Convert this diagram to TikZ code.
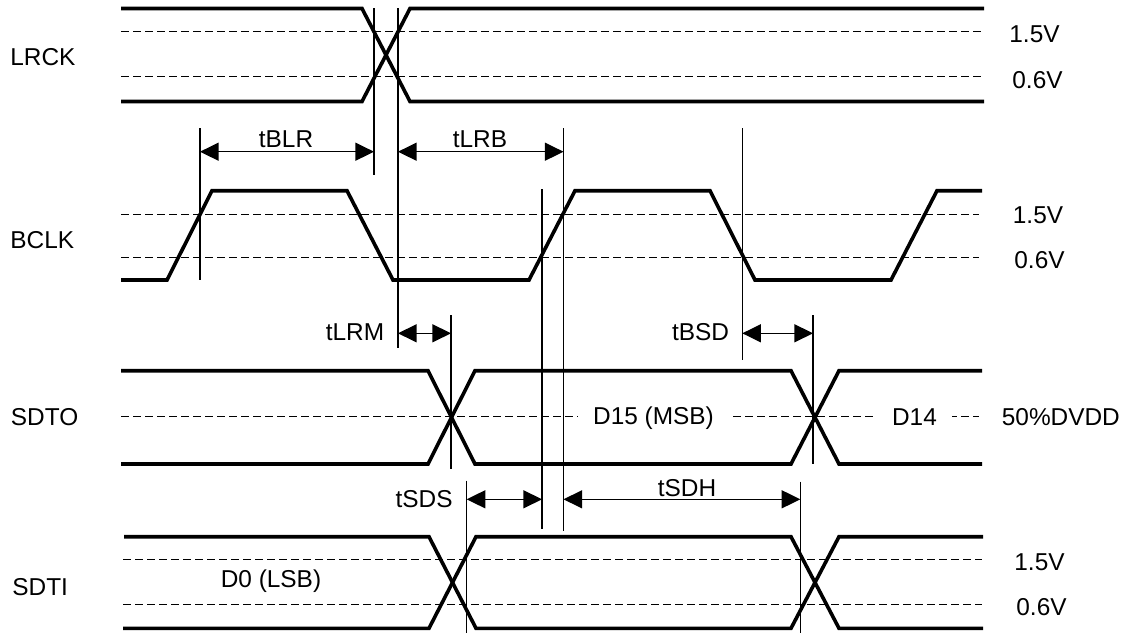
\documentclass[tikz,border=0pt]{standalone}
\usepackage{fontspec}
\setmainfont{Liberation Sans}
\usetikzlibrary{arrows.meta}
\begin{document}
\begin{tikzpicture}[x=0.5pt,y=-0.5pt,
  wave/.style={line width=1.8pt},
  guide/.style={line width=0.7pt},
  ref/.style={line width=0.7pt, dash pattern=on 4pt off 2pt},
  dim/.style={line width=0.7pt, {Triangle[length=9.3pt,width=9pt]}-{Triangle[length=9.3pt,width=9pt]}},
  lbl/.style={inner sep=0pt, font=\fontsize{12.2pt}{14pt}\selectfont},
  gap/.style={lbl, fill=white, inner xsep=7.6pt, inner ysep=2pt},
]
\useasboundingbox (0,0) rectangle (1130,633);

% ---------- reference (dashed) lines ----------
\draw[ref] (121,31.7) -- (982,31.7);
\draw[ref] (121,76.7) -- (982,76.7);
\draw[ref] (121,214.3) -- (979,214.3);
\draw[ref] (121,257.7) -- (979,257.7);
\draw[ref] (121,416.5) -- (979,416.5);
\draw[ref] (123,559.3) -- (982,559.3);
\draw[ref] (123,604.3) -- (982,604.3);

% ---------- waveforms ----------
% LRCK
\draw[wave] (121,8.5) -- (362,8.5) -- (410,101.5) -- (984,101.5);
\draw[wave] (121,101.5) -- (362,101.5) -- (410,8.5) -- (984,8.5);
% BCLK
\draw[wave] (121,280) -- (167,280) -- (212,190.7) -- (347,190.7) -- (393,280)
  -- (529,280) -- (575,190.7) -- (710,190.7) -- (755,280) -- (891,280)
  -- (937,190.7) -- (982,190.7);
% SDTO
\draw[wave] (121,370.7) -- (428,370.7) -- (475,464) -- (791,464) -- (839,370.7) -- (982,370.7);
\draw[wave] (121,464) -- (428,464) -- (475,370.7) -- (791,370.7) -- (839,464) -- (982,464);
% SDTI
\draw[wave] (124,536.7) -- (429,536.7) -- (476,628.3) -- (791,628.3) -- (839,536.7) -- (983,536.7);
\draw[wave] (123,628.3) -- (429,628.3) -- (476,536.7) -- (791,536.7) -- (839,628.3) -- (983,628.3);

% ---------- timing reference verticals ----------
\coordinate (v1t) at (200,128.3); \coordinate (v1b) at (200,280);
\coordinate (v2t) at (374,8);     \coordinate (v2b) at (374,175);
\coordinate (v3t) at (398,8);     \coordinate (v3b) at (398,348);
\coordinate (v4t) at (563.5,128); \coordinate (v4b) at (563.5,531);
\coordinate (v5t) at (542,189.3); \coordinate (v5b) at (542,529.3);
\coordinate (v6t) at (742.3,128); \coordinate (v6b) at (742.3,360);
\coordinate (v7t) at (813,315);   \coordinate (v7b) at (813,464);
\coordinate (v8t) at (451,315);   \coordinate (v8b) at (451,469.3);
\coordinate (v9t) at (466.7,480.7); \coordinate (v9b) at (466.7,633);
\coordinate (v10t) at (800.3,481.7); \coordinate (v10b) at (800.3,633);
\foreach \v in {v1,v2,v3,v4,v5,v6,v7,v8,v9,v10}
  \draw[guide] (\v t) -- (\v b);

% ---------- dimension arrows ----------
\coordinate (a1) at (200,151.7);   \coordinate (a2) at (374,151.7);
\coordinate (a3) at (398,151.7);   \coordinate (a4) at (563.5,151.7);
\coordinate (a5) at (398,333.3);   \coordinate (a6) at (451,333.3);
\coordinate (a7) at (742.3,333.3); \coordinate (a8) at (813,333.3);
\coordinate (a9) at (466.7,499.3); \coordinate (a10) at (542,499.3);
\coordinate (a11) at (563.5,499.3); \coordinate (a12) at (800.3,499.3);
\draw[dim] (a1) -- (a2);
\draw[dim] (a3) -- (a4);
\draw[dim] (a5) -- (a6);
\draw[dim] (a7) -- (a8);
\draw[dim] (a9) -- (a10);
\draw[dim] (a11) -- (a12);

% ---------- labels ----------
\node[lbl, anchor=base west] (lrck) at (10,65.5) {LRCK};
\node[lbl, anchor=base west] (bclk) at (10,248) {BCLK};
\node[lbl, anchor=base west] (sdto) at (10.5,425) {SDTO};
\node[lbl, anchor=base west] (sdti) at (12,595) {SDTI};

\node[lbl, anchor=base west] (l15) at (1009,42.7) {1.5V};
\node[lbl, anchor=base west] (l06) at (1012,88.3) {0.6V};
\node[lbl, anchor=base west] (b15) at (1012.5,223) {1.5V};
\node[lbl, anchor=base west] (b06) at (1014,268) {0.6V};
\node[lbl, anchor=base west] (dvdd) at (1001.5,425) {50\%DVDD};
\node[lbl, anchor=base west] (s15) at (1014,570) {1.5V};
\node[lbl, anchor=base west] (s06) at (1016,615) {0.6V};

\node[lbl, anchor=base] (tblr) at (286,147) {tBLR};
\node[lbl, anchor=base] (tlrb) at (480,147) {tLRB};
\node[lbl, anchor=base east] (tlrm) at (384.5,340) {tLRM};
\node[lbl, anchor=base east] (tbsd) at (729.5,340.7) {tBSD};
\node[lbl, anchor=base east] (tsds) at (453,507) {tSDS};
\node[lbl, anchor=base] (tsdh) at (687,496) {tSDH};

\node[gap, anchor=base] (d15) at (653.5,424.5) {D15 (MSB)};
\node[gap, anchor=base] (d14) at (914.5,425) {D14};
\node[lbl, anchor=base] (d0) at (271,587.7) {D0 (LSB)};
\end{tikzpicture}
\end{document}
